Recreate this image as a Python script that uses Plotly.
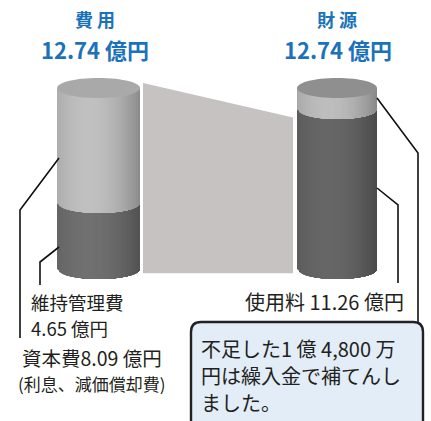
import math
import plotly.graph_objects as go

# ---------------- data ----------------
cost_title = "費 用"
source_title = "財 源"
total_cost = 12.74
total_source = 12.74
cost_labels = ["維持管理費", "資本費"]
cost_values = [4.65, 8.09]
source_labels = ["使用料", "繰入金"]
source_values = [11.26, 1.48]
unit = "億円"
note_lines = ["不足した1 億 4,800 万", "円は繰入金で補てんし", "ました。"]

# ---------------- layout helpers ----------------
W, H = 431, 421
BASE_PX = 269.0          # pixel row of value 0
SCALE = 181.0 / 12.74    # pixels per 億円


def Y(py):
    return (BASE_PX - py) / SCALE


BSEMI = 10.0 / SCALE     # ellipse semi-minor axis in value units
FONT = "Noto Sans CJK JP"
BLUE = "#1a72bb"
INK = "#231f20"


def shade(hexcol, f):
    r = int(hexcol[1:3], 16); g = int(hexcol[3:5], 16); b = int(hexcol[5:7], 16)
    c = lambda v: max(0, min(255, int(round(v * f))))
    return f"#{c(r):02x}{c(g):02x}{c(b):02x}"


shapes = []


def dy(x, cx, rx):
    u = (x - cx) / rx
    return BSEMI * math.sqrt(max(0.0, 1 - u * u))


def segment(cx, rx, a, b, col, n=40):
    x0 = cx - rx
    xe = cx + rx
    for i in range(n):
        xa = x0 + 2 * rx * i / n
        t = (i + 0.5) / n
        f = 1.0 - 0.28 * ((t - 0.38) / 0.62) ** 2
        c = shade(col, f)
        # each strip runs to the right edge; later strips overwrite -> no seams
        xs = [xa + (xe - xa) * k / 12 for k in range(13)]
        bottom = [f"{x},{a - dy(x, cx, rx)}" for x in xs]
        top = [f"{x},{b - dy(x, cx, rx)}" for x in reversed(xs)]
        path = "M" + " L".join(bottom + top) + " Z"
        shapes.append(dict(type="path", path=path, xref="x", yref="y",
                           fillcolor=c, line=dict(width=0), layer="below"))


def top_face(cx, rx, v, col, n=60):
    pts = []
    for k in range(n + 1):
        th = 2 * math.pi * k / n
        pts.append((cx + rx * math.cos(th), v + BSEMI * math.sin(th)))
    path = "M" + " L".join(f"{x},{y}" for x, y in pts) + " Z"
    shapes.append(dict(type="path", path=path, xref="x", yref="y",
                       fillcolor=col, line=dict(width=0), layer="below"))


# ---------------- connecting band ----------------
band_col = "#c6c2c2"
shapes.append(dict(type="path", xref="x", yref="y", layer="below",
                   path=(f"M143,{total_cost + 0.35} L293,{source_values[0] - 0.6} "
                         f"L293,{-0.3} L143,{-0.3} Z"),
                   fillcolor=band_col, line=dict(color=band_col, width=0)))

# ---------------- cylinders ----------------
LCX, LRX = 98.5, 41.5
RCX, RRX = 337.0, 40.0

segment(LCX, LRX, 0, cost_values[0], "#707070")
segment(LCX, LRX, cost_values[0], cost_values[0] + cost_values[1], "#c0c0c0")
top_face(LCX, LRX, total_cost, "#a9a9a9")

segment(RCX, RRX, 0, source_values[0], "#666666")
segment(RCX, RRX, source_values[0], source_values[0] + source_values[1], "#bdbdbd")
top_face(RCX, RRX, total_source, "#8f8f8f")

# ---------------- leader lines ----------------
def leader(points):
    path = "M" + " L".join(f"{x},{Y(py)}" for x, py in points)
    shapes.append(dict(type="path", path=path, xref="x", yref="y",
                       line=dict(color="#111111", width=1.6)))


leader([(59, 158), (20, 210), (20, 338)])
leader([(59, 247), (40, 262), (40, 285)])
leader([(377, 188), (398, 205), (398, 283)])
leader([(377, 98), (418, 153), (418, 322)])

# ---------------- callout box ----------------
bx0, bx1, by0, by1, r = 191, 423, 322, 445, 10
box = (f"M{bx0 + r},{Y(by0)} L{bx1 - r},{Y(by0)} Q{bx1},{Y(by0)} {bx1},{Y(by0 + r)} "
       f"L{bx1},{Y(by1)} L{bx0},{Y(by1)} L{bx0},{Y(by0 + r)} Q{bx0},{Y(by0)} {bx0 + r},{Y(by0)} Z")
shapes.append(dict(type="path", path=box, xref="x", yref="y",
                   fillcolor="#e2edf7", line=dict(color="#222222", width=2.4)))

# ---------------- text ----------------
ann = []


def text(x, py, s, size, color=INK, xanchor="center", bold=False):
    if bold:
        s = f"<b>{s}</b>"
    ann.append(dict(x=x, y=Y(py), xref="x", yref="y", text=s, showarrow=False,
                    xanchor=xanchor, yanchor="middle", borderpad=0,
                    font=dict(family=FONT, size=size, color=color)))


text(95, 19, cost_title, 18, BLUE, bold=True)
text(95, 49, f"{total_cost:.2f} {unit}", 22, BLUE, bold=True)
text(337, 19, source_title, 18, BLUE, bold=True)
text(338, 49, f"{total_source:.2f} {unit}", 22, BLUE, bold=True)

text(30, 302, cost_labels[0], 18.5, xanchor="left")
text(30, 328, f"{cost_values[0]:.2f} {unit}", 18.5, xanchor="left")
text(92, 357, f"{cost_labels[1]}{cost_values[1]:.2f} {unit}", 19.5)
text(92, 383, "(利息、減価償却費)", 17)
text(405, 301, f"{source_labels[0]} {source_values[0]:.2f} {unit}", 20, xanchor="right")

for i, line in enumerate(note_lines):
    text(200, 348 + 27 * i, line, 20, xanchor="left")

fig = go.Figure()
fig.add_trace(go.Scatter(x=[0], y=[0], mode="markers", marker=dict(opacity=0),
                         hoverinfo="skip", showlegend=False))
fig.update_layout(
    width=W, height=H, margin=dict(l=0, r=0, t=0, b=0),
    paper_bgcolor="white", plot_bgcolor="white",
    xaxis=dict(range=[0, W], visible=False, fixedrange=True),
    yaxis=dict(range=[Y(H), Y(0)], visible=False, fixedrange=True),
    shapes=shapes, annotations=ann, showlegend=False,
)
fig.write_html("out.html", config={"displayModeBar": False},
               post_script="document.body.style.margin='0';")
